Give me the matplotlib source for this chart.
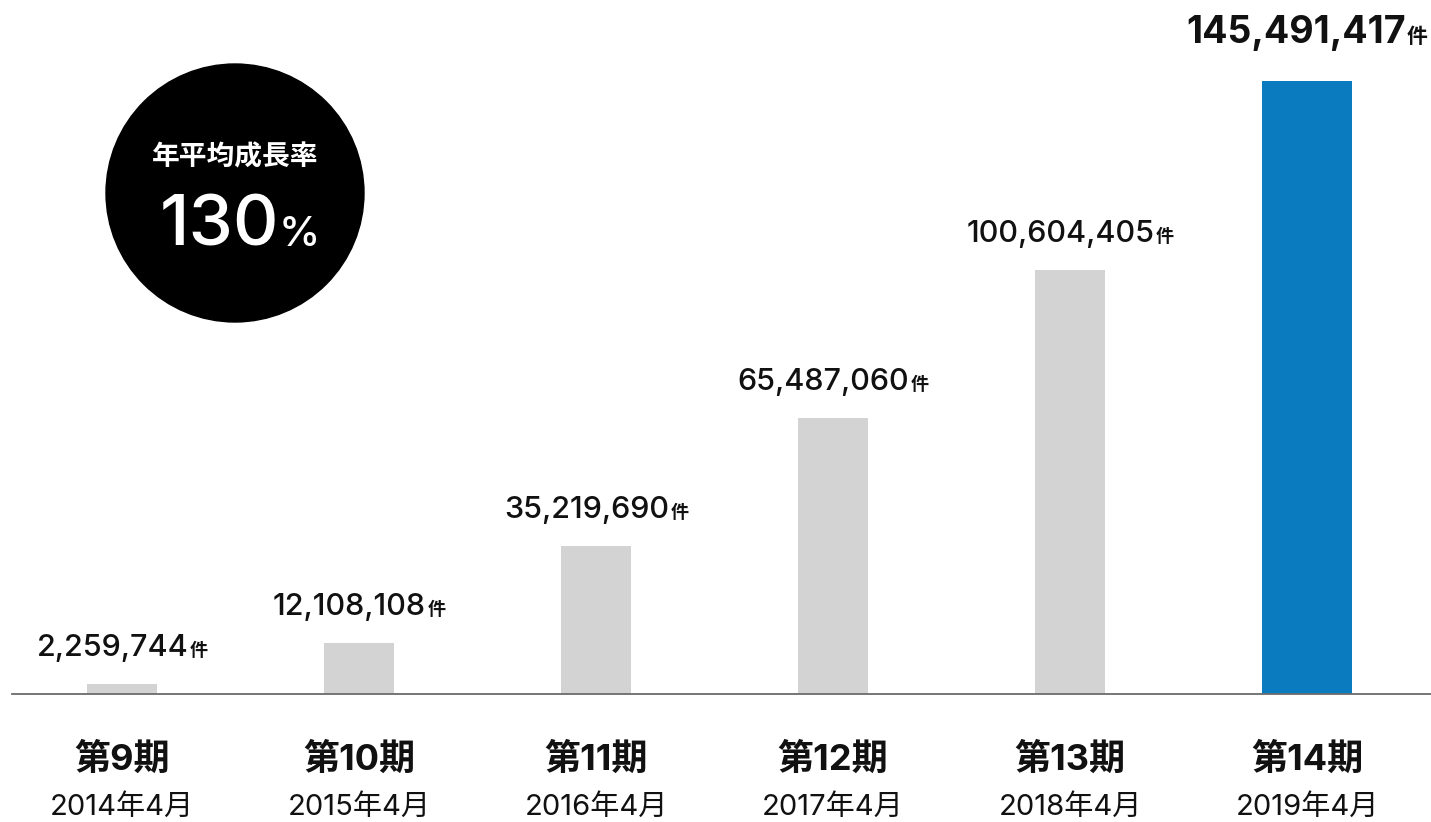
import matplotlib
matplotlib.use("Agg")
import matplotlib.pyplot as plt
from matplotlib.patches import Ellipse
from matplotlib.offsetbox import TextArea, HPacker, AnnotationBbox

plt.rcParams['font.family'] = ['Inter', 'Noto Sans CJK JP', 'DejaVu Sans']

periods = ["第9期", "第10期", "第11期", "第12期", "第13期", "第14期"]
dates = ["2014年4月", "2015年4月", "2016年4月", "2017年4月", "2018年4月", "2019年4月"]
counts = [2259744, 12108108, 35219690, 65487060, 100604405, 145491417]
unit = "件"
cagr_title = "年平均成長率"
cagr_value = "130"

W, H = 1431, 822
fig = plt.figure(figsize=(W / 100, H / 100), dpi=100)

base_px = 694
ax = fig.add_axes([12 / W, (H - base_px) / H, 1 - 12 / W, base_px / H])

x = list(range(len(counts)))
vals = [c / 1e6 for c in counts]
colors = ["#d3d3d3"] * (len(counts) - 1) + ["#0b7bc0"]
widths = [0.295] * (len(counts) - 1) + [0.376]
ax.bar(x, vals, width=widths, color=colors, zorder=2)

ax.set_xlim((12 - 122) / 237, (1431 - 122) / 237)
ax.set_ylim(0, base_px / 4.213)
for s in ["top", "right", "left"]:
    ax.spines[s].set_visible(False)
ax.spines["bottom"].set_color("#6b6b6b")
ax.spines["bottom"].set_linewidth(1.3)
ax.set_xticks([])
ax.set_yticks([])
ax.patch.set_alpha(0)

# value labels
for i, (c, v) in enumerate(zip(counts, vals)):
    last = i == len(counts) - 1
    num = TextArea(f"{c:,}", textprops=dict(fontsize=27 if last else 22,
                                            fontweight="bold" if last else "medium",
                                            color="#111111"))
    u = TextArea(unit, textprops=dict(fontsize=15 if last else 13,
                                      fontweight="bold", color="#111111",
                                      family=["Noto Sans CJK JP"]))
    box = HPacker(children=[num, u], align="baseline", pad=0, sep=1)
    ab = AnnotationBbox(box, (i, v), xybox=(0, 30 if last else 22),
                        boxcoords="offset pixels", box_alignment=(0.5, 0),
                        frameon=False, pad=0)
    ax.add_artist(ab)

# category labels
for i, (p, d) in enumerate(zip(periods, dates)):
    ax.annotate(p, xy=(i, 0), xycoords=("data", "axes fraction"),
                xytext=(0, -66), textcoords="offset pixels",
                ha="center", va="center", fontsize=26, fontweight="bold",
                color="#111111", annotation_clip=False)
    ax.annotate(d, xy=(i, 0), xycoords=("data", "axes fraction"),
                xytext=(0, -113), textcoords="offset pixels",
                ha="center", va="center", fontsize=21, color="#111111",
                annotation_clip=False)

# growth-rate badge
cx, cy, r = 235, 193, 129
fig.patches.append(Ellipse((cx / W, 1 - cy / H), 2 * r / W, 2 * r / H,
                           transform=fig.transFigure, color="black", zorder=1))
fig.text(cx / W, 1 - 157 / H, cagr_title, ha="center", va="center",
         fontsize=20, fontweight="bold", color="white",
         family=["Noto Sans CJK JP"])
big = TextArea(cagr_value, textprops=dict(fontsize=51, fontweight="medium", color="white"))
pct = TextArea("%", textprops=dict(fontsize=30, fontweight="medium", color="white"))
badge = HPacker(children=[big, pct], align="baseline", pad=0, sep=0)
ab = AnnotationBbox(badge, (240 / W, 1 - 227 / H), xycoords="figure fraction",
                    box_alignment=(0.5, 0.5), frameon=False, pad=0)
fig.add_artist(ab)

fig.savefig("out.png", dpi=100)
